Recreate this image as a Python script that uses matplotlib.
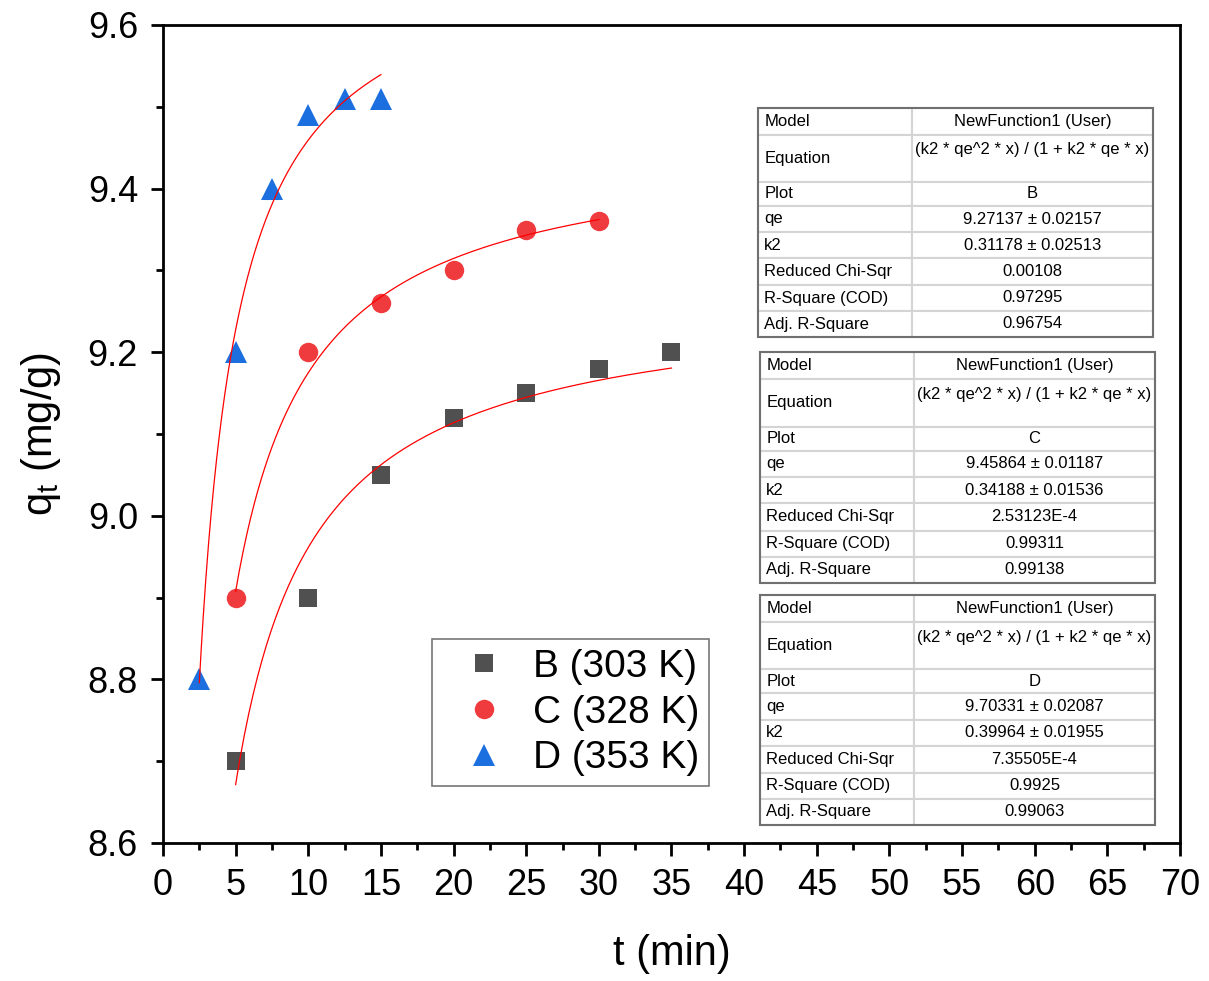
import matplotlib.pyplot as plt
import numpy as np
from matplotlib.ticker import MultipleLocator
from matplotlib.patches import Rectangle

plt.rcParams['font.family'] = ['Liberation Sans', 'DejaVu Sans']
plt.rcParams['mathtext.default'] = 'regular'

# experimental data
t_B = [5, 10, 15, 20, 25, 30, 35]
q_B = [8.70, 8.90, 9.05, 9.12, 9.15, 9.18, 9.20]
t_C = [5, 10, 15, 20, 25, 30]
q_C = [8.90, 9.20, 9.26, 9.30, 9.35, 9.36]
t_D = [2.5, 5, 7.5, 10, 12.5, 15]
q_D = [8.80, 9.20, 9.40, 9.49, 9.51, 9.51]

labels = ['B (303 K)', 'C (328 K)', 'D (353 K)']
plot_names = ['B', 'C', 'D']

# fitted parameters (pseudo-second-order)
qe_vals = [9.27137, 9.45864, 9.70331]
qe_err = [0.02157, 0.01187, 0.02087]
k2_vals = [0.31178, 0.34188, 0.39964]
k2_err = [0.02513, 0.01536, 0.01955]
chi_sqr = ['0.00108', '2.53123E-4', '7.35505E-4']
r_sq = ['0.97295', '0.99311', '0.9925']
adj_r_sq = ['0.96754', '0.99138', '0.99063']

colors = ['#505050', '#EF3B3D', '#1B6FDE']
markers = ['s', 'o', '^']
msizes = [13, 14, 16]


def pso(x, qe, k2):
    return k2 * qe**2 * x / (1 + k2 * qe * x)


fig = plt.figure(figsize=(12.09, 9.81), dpi=100)
ax = fig.add_axes([163/1209, 1 - 843/981, 1017/1209, 818/981])

for (tt, qq), c, m, ms, lab, qe, k2 in zip([(t_B, q_B), (t_C, q_C), (t_D, q_D)],
                                          colors, markers, msizes, labels, qe_vals, k2_vals):
    ax.plot(tt, qq, linestyle='none', marker=m, color=c, markersize=ms,
            markeredgewidth=0, label=lab, zorder=2)
    xf = np.linspace(min(tt), max(tt), 200)
    ax.plot(xf, pso(xf, qe, k2), color='red', lw=0.9, zorder=3)

ax.set_xlim(0, 70)
ax.set_ylim(8.6, 9.6)
ax.xaxis.set_major_locator(MultipleLocator(5))
ax.xaxis.set_minor_locator(MultipleLocator(2.5))
ax.yaxis.set_major_locator(MultipleLocator(0.2))
ax.yaxis.set_minor_locator(MultipleLocator(0.1))
ax.tick_params(which='both', direction='out', width=2, labelsize=26, pad=9)
ax.tick_params(which='major', length=9)
ax.tick_params(which='minor', length=5)
for s in ax.spines.values():
    s.set_linewidth(2)

ax.set_xlabel('t (min)', fontsize=30, labelpad=22)
ax.set_ylabel('q$_t$ (mg/g)', fontsize=30, labelpad=18)

leg = ax.legend(loc='lower left', bbox_to_anchor=(0.2645, 0.0697), borderaxespad=0,
                fontsize=28, frameon=True, fancybox=False, edgecolor='#555555',
                handletextpad=0.15, labelspacing=0.25, borderpad=0.25,
                handlelength=2.2)
leg.get_frame().set_linewidth(1.2)

# fit result tables
table_boxes = [(758, 108, 395, 229), (760, 352, 395, 231), (760, 595, 395, 230)]
row_heights = [27, 47, 24, 26, 26, 27, 26, 26]
row_names = ['Model', 'Equation', 'Plot', 'qe', 'k2', 'Reduced Chi-Sqr',
             'R-Square (COD)', 'Adj. R-Square']

for i, (px, py, pw, ph) in enumerate(table_boxes):
    tax = fig.add_axes([px/1209, 1 - (py + ph)/981, pw/1209, ph/981])
    tax.axis('off')
    values = ['NewFunction1 (User)',
              '(k2 * qe^2 * x) / (1 + k2 * qe * x)\n',
              plot_names[i],
              f'{qe_vals[i]:.5f} \u00b1 {qe_err[i]:.5f}',
              f'{k2_vals[i]:.5f} \u00b1 {k2_err[i]:.5f}',
              chi_sqr[i], r_sq[i], adj_r_sq[i]]
    cells = [[n, v] for n, v in zip(row_names, values)]
    tb = tax.table(cellText=cells, colWidths=[0.39, 0.61], bbox=[0, 0, 1, 1])
    tb.auto_set_font_size(False)
    for (r, c), cell in tb.get_celld().items():
        cell.set_height(row_heights[r])
        cell.set_edgecolor('#d4d4d4')
        cell.set_linewidth(1.5)
        cell.get_text().set_fontsize(12)
        if c == 0:
            cell.set_text_props(ha='left')
            cell.PAD = 0.04
        else:
            cell.set_text_props(ha='center')
    tax.add_patch(Rectangle((0, 0), 1, 1, transform=tax.transAxes, fill=False,
                            edgecolor='#707070', lw=1.5, zorder=5, clip_on=False))

fig.savefig('out.png', dpi=100)
